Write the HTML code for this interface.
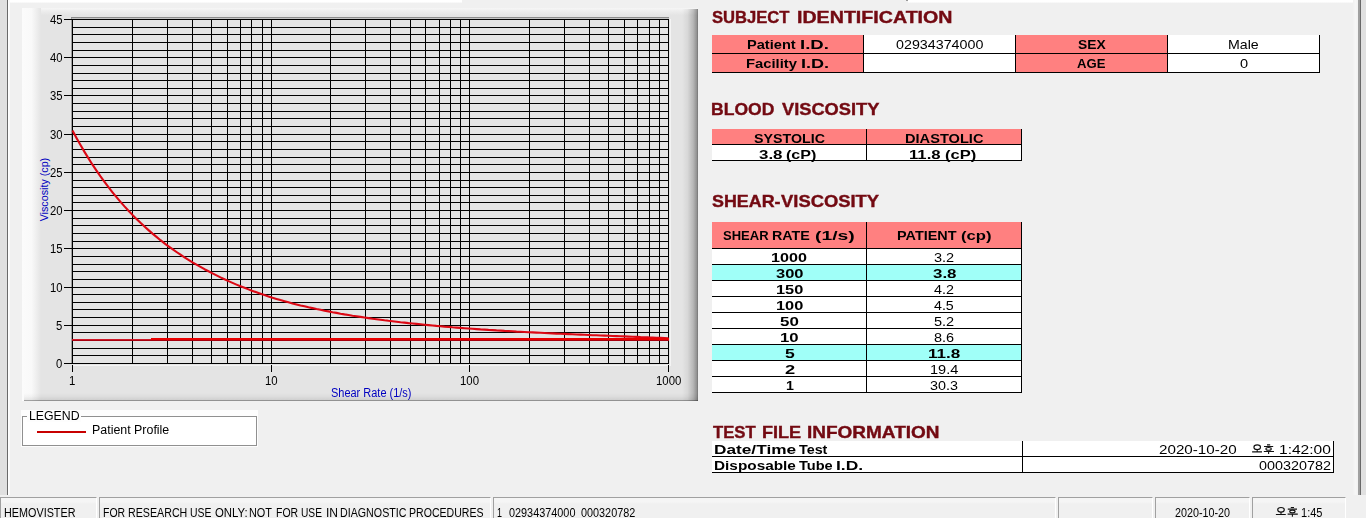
<!DOCTYPE html><html><head><meta charset="utf-8"><title>HEMOVISTER</title><style>
html,body{margin:0;padding:0;}
body{width:1366px;height:518px;overflow:hidden;background:#f0f0f0;font-family:"Liberation Sans",sans-serif;position:relative;}
.abs{position:absolute;}
.t{position:absolute;white-space:nowrap;transform-origin:0 50%;display:block;}
.c{position:absolute;box-sizing:border-box;}
.sal{background:#ff8080;}
.wh{background:#fff;}
.cy{background:#a0fff8;}
.br{border-right:1px solid #000;}
.bb{border-bottom:1px solid #000;}
.sb{position:absolute;top:497px;height:24px;box-sizing:border-box;border-top:1px solid #a0a0a0;border-left:1px solid #a0a0a0;border-right:1px solid #fff;background:linear-gradient(#f5f5f5 0,#f5f5f5 4px,#f0f0f0 6px);}
</style></head><body>
<div class="abs" style="left:8px;top:0;width:454px;height:3px;background:linear-gradient(#fff 0,#fff 60%,#f4f4f4 100%)"></div>
<div class="abs" style="left:908px;top:0;width:446px;height:3px;background:linear-gradient(#fff 0,#fff 60%,#f4f4f4 100%)"></div>
<div class="abs" style="left:906px;top:0;width:2px;height:1px;background:#9a9a9a"></div>
<div class="abs" style="left:0;top:0;width:7px;height:495px;background:#e0e0e0"></div>
<div class="abs" style="left:7px;top:0;width:1px;height:495px;background:#6a6a6a"></div>
<div class="abs" style="left:8px;top:0;width:2px;height:495px;background:linear-gradient(90deg,#fff 0,#fff 50%,#f7f7f7 100%)"></div>
<div class="abs" style="left:1353px;top:0;width:5px;height:495px;background:linear-gradient(90deg,#f1f1f1,#f6f6f6 50%,#f1f1f1)"></div>
<div class="abs" style="left:1358px;top:0;width:2px;height:495px;background:#a0a0a0"></div>
<div class="abs" style="left:1360px;top:0;width:1px;height:495px;background:#686868"></div>
<div class="abs" style="left:1361px;top:0;width:5px;height:495px;background:#e0e0e0"></div>
<div class="abs" style="left:22px;top:8px;width:676px;height:393px;background:#e4e4e4"></div>
<div class="abs" style="left:22px;top:8px;width:676px;height:7px;background:linear-gradient(#f6f6f6 0,#eeeeee 40%,#e4e4e4 100%)"></div>
<div class="abs" style="left:22px;top:8px;width:19px;height:393px;background:linear-gradient(90deg,#fbfbfb 0,#f9f9f9 50%,#e4e4e4 100%)"></div>
<div class="abs" style="left:24px;top:393px;width:674px;height:7px;background:linear-gradient(rgba(0,0,0,0) 0,rgba(0,0,0,.03) 50%,rgba(0,0,0,.09) 100%)"></div>
<div class="abs" style="left:24px;top:400px;width:674px;height:1px;background:rgba(0,0,0,.36)"></div>
<div class="abs" style="left:682px;top:9px;width:16px;height:392px;background:linear-gradient(90deg,rgba(0,0,0,0) 0,rgba(0,0,0,.055) 35%,rgba(0,0,0,.2) 70%,rgba(0,0,0,.36) 92%,rgba(0,0,0,.5) 100%)"></div>
<svg class="abs" style="left:0;top:0" width="720" height="410" viewBox="0 0 720 410">
<path d="M71 17.5H669" stroke="#8c8c8c" stroke-width="1" fill="none" shape-rendering="crispEdges"/>
<path d="M71.5 364V18.5H669" stroke="#c4c4c4" stroke-width="1" fill="none" shape-rendering="crispEdges"/>
<path d="M71.5 364V18" stroke="#a0a0a0" stroke-width="1" fill="none" shape-rendering="crispEdges"/>
<path d="M72 365.5H670.5V19" stroke="#f4f4f4" stroke-width="1" fill="none" shape-rendering="crispEdges"/>
<path d="M72 363.5H669M72 355.5H669M72 348.5H669M72 340.5H669M72 332.5H669M72 325.5H669M72 317.5H669M72 309.5H669M72 302.5H669M72 294.5H669M72 287.5H669M72 279.5H669M72 271.5H669M72 264.5H669M72 256.5H669M72 248.5H669M72 241.5H669M72 233.5H669M72 225.5H669M72 218.5H669M72 210.5H669M72 202.5H669M72 195.5H669M72 187.5H669M72 180.5H669M72 172.5H669M72 164.5H669M72 157.5H669M72 149.5H669M72 141.5H669M72 134.5H669M72 126.5H669M72 118.5H669M72 111.5H669M72 103.5H669M72 95.5H669M72 88.5H669M72 80.5H669M72 73.5H669M72 65.5H669M72 57.5H669M72 50.5H669M72 42.5H669M72 34.5H669M72 27.5H669M72 19.5H669M72.5 19V364M132.5 19V364M167.5 19V364M192.5 19V364M211.5 19V364M227.5 19V364M240.5 19V364M251.5 19V364M262.5 19V364M271.5 19V364M330.5 19V364M365.5 19V364M390.5 19V364M410.5 19V364M425.5 19V364M439.5 19V364M450.5 19V364M460.5 19V364M469.5 19V364M529.5 19V364M564.5 19V364M589.5 19V364M608.5 19V364M624.5 19V364M637.5 19V364M649.5 19V364M659.5 19V364M668.5 19V364" stroke="#000" stroke-width="1" fill="none" shape-rendering="crispEdges"/>
<path d="M64 363.5H72M64 325.5H72M64 287.5H72M64 248.5H72M64 210.5H72M64 172.5H72M64 134.5H72M64 95.5H72M64 57.5H72M64 19.5H72M72.5 365V372M271.5 365V372M469.5 365V372M668.5 365V372" stroke="#000" stroke-width="1" fill="none" shape-rendering="crispEdges"/>
<polyline points="72.5,130.6 76.5,138.0 80.5,145.1 84.5,151.9 88.5,158.4 92.5,164.7 96.5,170.6 100.5,176.4 104.5,181.9 108.5,187.2 112.5,192.3 116.5,197.2 120.5,201.9 124.5,206.4 128.5,210.7 132.5,214.9 136.5,218.9 140.5,222.8 144.5,226.5 148.5,230.1 152.5,233.6 156.5,236.9 160.5,240.2 164.5,243.3 168.5,246.3 172.5,249.2 176.5,252.0 180.5,254.7 184.5,257.3 188.5,259.8 192.5,262.3 196.5,264.6 200.5,266.9 204.5,269.2 208.5,271.3 212.5,273.4 216.5,275.4 220.5,277.4 224.5,279.2 228.5,281.1 232.5,282.9 236.5,284.6 240.5,286.2 244.5,287.8 248.5,289.4 252.5,290.9 256.5,292.3 260.5,293.7 264.5,295.1 268.5,296.4 272.5,297.7 276.5,298.9 280.5,300.1 284.5,301.2 288.5,302.3 292.5,303.4 296.5,304.4 300.5,305.4 304.5,306.3 308.5,307.3 312.5,308.1 316.5,309.0 320.5,309.8 324.5,310.7 328.5,311.4 332.5,312.2 336.5,312.9 340.5,313.7 344.5,314.4 348.5,315.0 352.5,315.7 356.5,316.3 360.5,316.9 364.5,317.5 368.5,318.1 372.5,318.7 376.5,319.2 380.5,319.7 384.5,320.3 388.5,320.8 392.5,321.2 396.5,321.7 400.5,322.2 404.5,322.6 408.5,323.1 412.5,323.5 416.5,323.9 420.5,324.3 424.5,324.7 428.5,325.1 432.5,325.5 436.5,325.9 440.5,326.2 444.5,326.6 448.5,326.9 452.5,327.3 456.5,327.6 460.5,327.9 464.5,328.2 468.5,328.5 472.5,328.8 476.5,329.1 480.5,329.4 484.5,329.6 488.5,329.9 492.5,330.1 496.5,330.4 500.5,330.6 504.5,330.9 508.5,331.1 512.5,331.3 516.5,331.6 520.5,331.8 524.5,332.0 528.5,332.2 532.5,332.4 536.5,332.6 540.5,332.8 544.5,333.0 548.5,333.2 552.5,333.4 556.5,333.6 560.5,333.8 564.5,333.9 568.5,334.1 572.5,334.3 576.5,334.5 580.5,334.6 584.5,334.8 588.5,335.0 592.5,335.2 596.5,335.3 600.5,335.5 604.5,335.6 608.5,335.8 612.5,336.0 616.5,336.1 620.5,336.3 624.5,336.4 628.5,336.6 632.5,336.8 636.5,336.9 640.5,337.1 644.5,337.2 648.5,337.4 652.5,337.5 656.5,337.7 660.5,337.8 664.5,338.0 668.5,338.2" stroke="#dc0814" stroke-width="2.1" fill="none" stroke-linejoin="round"/>
<path d="M72 340.5H669" stroke="#a80010" stroke-width="1" fill="none" shape-rendering="crispEdges"/>
<path d="M72 339.5H152" stroke="#d01828" stroke-width="1" fill="none" shape-rendering="crispEdges"/>
<path d="M151 339H669" stroke="#e80000" stroke-width="2" fill="none" shape-rendering="crispEdges"/>
</svg>
<span class="t" style="left:0;top:0;font-size:11.5px;line-height:14px;color:#0000c0;transform-origin:0 0;transform:translate(36.70px,221.35px) rotate(-90deg) scaleX(0.9319)">Viscosity (cp)</span>
<div class="abs" style="left:21px;top:410px;width:237px;height:37px;background:#fdfdfd"></div>
<div class="abs" style="left:22px;top:416px;width:235px;height:30px;box-sizing:border-box;border:1px solid #909090;background:#fff"></div>
<div class="abs" style="left:27px;top:410px;width:54px;height:12px;background:#fdfdfd"></div>
<div class="abs" style="left:37px;top:431px;width:49px;height:2px;background:#c80000"></div>
<div class="c sal br bb" style="left:712px;top:35px;width:152px;height:19px"></div>
<div class="c wh br bb" style="left:864px;top:35px;width:152px;height:19px"></div>
<div class="c sal br bb" style="left:1016px;top:35px;width:152px;height:19px"></div>
<div class="c wh br bb" style="left:1168px;top:35px;width:152px;height:19px"></div>
<div class="c sal br bb" style="left:712px;top:54px;width:152px;height:19px"></div>
<div class="c wh br bb" style="left:864px;top:54px;width:152px;height:19px"></div>
<div class="c sal br bb" style="left:1016px;top:54px;width:152px;height:19px"></div>
<div class="c wh br bb" style="left:1168px;top:54px;width:152px;height:19px"></div>
<div class="c sal br bb" style="left:712px;top:129px;width:155px;height:16px"></div>
<div class="c sal br bb" style="left:867px;top:129px;width:155px;height:16px"></div>
<div class="c wh br bb" style="left:712px;top:145px;width:155px;height:16px"></div>
<div class="c wh br bb" style="left:867px;top:145px;width:155px;height:16px"></div>
<div class="c sal br bb" style="left:712px;top:222px;width:155px;height:27px"></div>
<div class="c sal br bb" style="left:867px;top:222px;width:155px;height:27px"></div>
<div class="c wh br bb" style="left:712px;top:249px;width:155px;height:16px"></div>
<div class="c wh br bb" style="left:867px;top:249px;width:155px;height:16px"></div>
<div class="c cy br bb" style="left:712px;top:265px;width:155px;height:16px"></div>
<div class="c cy br bb" style="left:867px;top:265px;width:155px;height:16px"></div>
<div class="c wh br bb" style="left:712px;top:281px;width:155px;height:16px"></div>
<div class="c wh br bb" style="left:867px;top:281px;width:155px;height:16px"></div>
<div class="c wh br bb" style="left:712px;top:297px;width:155px;height:16px"></div>
<div class="c wh br bb" style="left:867px;top:297px;width:155px;height:16px"></div>
<div class="c wh br bb" style="left:712px;top:313px;width:155px;height:16px"></div>
<div class="c wh br bb" style="left:867px;top:313px;width:155px;height:16px"></div>
<div class="c wh br bb" style="left:712px;top:329px;width:155px;height:16px"></div>
<div class="c wh br bb" style="left:867px;top:329px;width:155px;height:16px"></div>
<div class="c cy br bb" style="left:712px;top:345px;width:155px;height:16px"></div>
<div class="c cy br bb" style="left:867px;top:345px;width:155px;height:16px"></div>
<div class="c wh br bb" style="left:712px;top:361px;width:155px;height:16px"></div>
<div class="c wh br bb" style="left:867px;top:361px;width:155px;height:16px"></div>
<div class="c wh br bb" style="left:712px;top:377px;width:155px;height:16px"></div>
<div class="c wh br bb" style="left:867px;top:377px;width:155px;height:16px"></div>
<div class="c wh br bb" style="left:712px;top:441px;width:311px;height:16px"></div>
<div class="c wh br bb" style="left:1023px;top:441px;width:311px;height:16px"></div>
<div class="c wh br bb" style="left:712px;top:457px;width:311px;height:16px"></div>
<div class="c wh br bb" style="left:1023px;top:457px;width:311px;height:16px"></div>
<div class="sb" style="left:0px;width:97px"></div>
<div class="sb" style="left:99px;width:392px"></div>
<div class="sb" style="left:493px;width:563px"></div>
<div class="sb" style="left:1058px;width:95px"></div>
<div class="sb" style="left:1155px;width:95px"></div>
<div class="sb" style="left:1252px;width:94px"></div>
<div class="abs" style="left:0;top:0;width:1366px;height:518px;will-change:transform">
<span class="t" style="left:712.10px;top:6.70px;font-size:16.6px;line-height:21px;transform:scaleX(1.0003);color:#730a12;font-weight:bold;-webkit-text-stroke:0.4px #730a12;">SUBJECT</span>
<span class="t" style="left:796.52px;top:6.70px;font-size:16.6px;line-height:21px;transform:scaleX(1.1824);color:#730a12;font-weight:bold;-webkit-text-stroke:0.4px #730a12;">IDENTIFICATION</span>
<span class="t" style="left:711.36px;top:99.10px;font-size:16.6px;line-height:21px;transform:scaleX(1.0570);color:#730a12;font-weight:bold;-webkit-text-stroke:0.4px #730a12;">BLOOD</span>
<span class="t" style="left:781.51px;top:99.10px;font-size:16.6px;line-height:21px;transform:scaleX(1.1005);color:#730a12;font-weight:bold;-webkit-text-stroke:0.4px #730a12;">VISCOSITY</span>
<span class="t" style="left:711.96px;top:191.10px;font-size:16.6px;line-height:21px;transform:scaleX(1.0768);color:#730a12;font-weight:bold;-webkit-text-stroke:0.4px #730a12;">SHEAR-</span>
<span class="t" style="left:780.81px;top:191.10px;font-size:16.6px;line-height:21px;transform:scaleX(1.1085);color:#730a12;font-weight:bold;-webkit-text-stroke:0.4px #730a12;">VISCOSITY</span>
<span class="t" style="left:712.73px;top:421.80px;font-size:16.6px;line-height:21px;transform:scaleX(1.0076);color:#730a12;font-weight:bold;-webkit-text-stroke:0.4px #730a12;">TEST</span>
<span class="t" style="left:762.33px;top:421.80px;font-size:16.6px;line-height:21px;transform:scaleX(1.0881);color:#730a12;font-weight:bold;-webkit-text-stroke:0.4px #730a12;">FILE</span>
<span class="t" style="left:807.07px;top:421.80px;font-size:16.6px;line-height:21px;transform:scaleX(1.1441);color:#730a12;font-weight:bold;-webkit-text-stroke:0.4px #730a12;">INFORMATION</span>
<span class="t" style="left:746.65px;top:36.70px;font-size:12.4px;line-height:16px;transform:scaleX(1.1793);font-weight:bold;">Patient</span>
<span class="t" style="left:800.29px;top:36.70px;font-size:12.4px;line-height:16px;transform:scaleX(1.4997);font-weight:bold;">I.D.</span>
<span class="t" style="left:746.24px;top:56.00px;font-size:12.4px;line-height:16px;transform:scaleX(1.1924);font-weight:bold;">Facility</span>
<span class="t" style="left:801.02px;top:56.00px;font-size:12.4px;line-height:16px;transform:scaleX(1.4601);font-weight:bold;">I.D.</span>
<span class="t" style="left:896.43px;top:36.70px;font-size:12.4px;line-height:16px;transform:scaleX(1.1523);">02934374000</span>
<span class="t" style="left:1077.79px;top:36.70px;font-size:12.4px;line-height:16px;transform:scaleX(1.1150);font-weight:bold;">SEX</span>
<span class="t" style="left:1077.37px;top:56.00px;font-size:12.4px;line-height:16px;transform:scaleX(1.0574);font-weight:bold;">AGE</span>
<span class="t" style="left:1228.37px;top:36.70px;font-size:12.4px;line-height:16px;transform:scaleX(1.1425);">Male</span>
<span class="t" style="left:1239.72px;top:56.00px;font-size:12.4px;line-height:16px;transform:scaleX(1.1761);">0</span>
<span class="t" style="left:754.07px;top:131.20px;font-size:12.4px;line-height:16px;transform:scaleX(1.1495);font-weight:bold;">SYSTOLIC</span>
<span class="t" style="left:904.85px;top:131.20px;font-size:12.4px;line-height:16px;transform:scaleX(1.1791);font-weight:bold;">DIASTOLIC</span>
<span class="t" style="left:758.58px;top:147.00px;font-size:12.4px;line-height:16px;transform:scaleX(1.3652);font-weight:bold;">3.8</span>
<span class="t" style="left:785.80px;top:147.00px;font-size:12.4px;line-height:16px;transform:scaleX(1.2975);font-weight:bold;">(cP)</span>
<span class="t" style="left:909.30px;top:147.00px;font-size:12.4px;line-height:16px;transform:scaleX(1.3486);font-weight:bold;">11.8</span>
<span class="t" style="left:945.07px;top:147.00px;font-size:12.4px;line-height:16px;transform:scaleX(1.3336);font-weight:bold;">(cP)</span>
<span class="t" style="left:722.91px;top:228.20px;font-size:12.4px;line-height:16px;transform:scaleX(1.0519);font-weight:bold;">SHEAR</span>
<span class="t" style="left:772.37px;top:228.20px;font-size:12.4px;line-height:16px;transform:scaleX(1.1534);font-weight:bold;">RATE</span>
<span class="t" style="left:814.93px;top:228.20px;font-size:12.4px;line-height:16px;transform:scaleX(1.5594);font-weight:bold;">(1/s)</span>
<span class="t" style="left:896.56px;top:228.20px;font-size:12.4px;line-height:16px;transform:scaleX(1.1634);font-weight:bold;">PATIENT</span>
<span class="t" style="left:961.37px;top:228.20px;font-size:12.4px;line-height:16px;transform:scaleX(1.3433);font-weight:bold;">(cp)</span>
<span class="t" style="left:771.33px;top:250.20px;font-size:12.4px;line-height:16px;transform:scaleX(1.3017);font-weight:bold;">1000</span>
<span class="t" style="left:934.02px;top:250.20px;font-size:12.4px;line-height:16px;transform:scaleX(1.1725);">3.2</span>
<span class="t" style="left:776.09px;top:266.20px;font-size:12.4px;line-height:16px;transform:scaleX(1.3306);font-weight:bold;">300</span>
<span class="t" style="left:932.98px;top:266.20px;font-size:12.4px;line-height:16px;transform:scaleX(1.3652);font-weight:bold;">3.8</span>
<span class="t" style="left:776.32px;top:282.20px;font-size:12.4px;line-height:16px;transform:scaleX(1.3192);font-weight:bold;">150</span>
<span class="t" style="left:934.31px;top:282.20px;font-size:12.4px;line-height:16px;transform:scaleX(1.1547);">4.2</span>
<span class="t" style="left:776.32px;top:298.20px;font-size:12.4px;line-height:16px;transform:scaleX(1.3192);font-weight:bold;">100</span>
<span class="t" style="left:934.32px;top:298.20px;font-size:12.4px;line-height:16px;transform:scaleX(1.1460);">4.5</span>
<span class="t" style="left:779.79px;top:314.20px;font-size:12.4px;line-height:16px;transform:scaleX(1.3648);font-weight:bold;">50</span>
<span class="t" style="left:934.02px;top:314.20px;font-size:12.4px;line-height:16px;transform:scaleX(1.1725);">5.2</span>
<span class="t" style="left:780.00px;top:330.20px;font-size:12.4px;line-height:16px;transform:scaleX(1.3494);font-weight:bold;">10</span>
<span class="t" style="left:933.95px;top:330.20px;font-size:12.4px;line-height:16px;transform:scaleX(1.1680);">8.6</span>
<span class="t" style="left:784.77px;top:346.20px;font-size:12.4px;line-height:16px;transform:scaleX(1.4194);font-weight:bold;">5</span>
<span class="t" style="left:927.87px;top:346.20px;font-size:12.4px;line-height:16px;transform:scaleX(1.3799);font-weight:bold;">11.8</span>
<span class="t" style="left:784.66px;top:362.20px;font-size:12.4px;line-height:16px;transform:scaleX(1.4785);font-weight:bold;">2</span>
<span class="t" style="left:929.81px;top:362.20px;font-size:12.4px;line-height:16px;transform:scaleX(1.1746);">19.4</span>
<span class="t" style="left:785.74px;top:378.20px;font-size:12.4px;line-height:16px;transform:scaleX(1.1496);font-weight:bold;">1</span>
<span class="t" style="left:930.33px;top:378.20px;font-size:12.4px;line-height:16px;transform:scaleX(1.1589);">30.3</span>
<span class="t" style="left:714.28px;top:442.30px;font-size:12.4px;line-height:16px;transform:scaleX(1.3914);font-weight:bold;">Date/Time</span>
<span class="t" style="left:799.46px;top:442.30px;font-size:12.4px;line-height:16px;transform:scaleX(1.1562);font-weight:bold;">Test</span>
<span class="t" style="left:714.40px;top:458.20px;font-size:12.4px;line-height:16px;transform:scaleX(1.2386);font-weight:bold;">Disposable</span>
<span class="t" style="left:799.45px;top:458.20px;font-size:12.4px;line-height:16px;transform:scaleX(1.1759);font-weight:bold;">Tube</span>
<span class="t" style="left:836.26px;top:458.20px;font-size:12.4px;line-height:16px;transform:scaleX(1.4092);font-weight:bold;">I.D.</span>
<span class="t" style="left:1159.14px;top:442.30px;font-size:12.4px;line-height:16px;transform:scaleX(1.2249);">2020-10-20</span>
<span class="t" style="left:1278.73px;top:442.30px;font-size:12.4px;line-height:16px;transform:scaleX(1.2553);">1:42:00</span>
<span class="t" style="left:1258.82px;top:458.20px;font-size:12.4px;line-height:16px;transform:scaleX(1.1600);">000320782</span>
<span class="t" style="left:56.43px;top:355.60px;font-size:12px;line-height:16px;transform:scaleX(0.9400);">0</span>
<span class="t" style="left:56.49px;top:317.60px;font-size:12px;line-height:16px;transform:scaleX(0.9400);">5</span>
<span class="t" style="left:50.17px;top:279.60px;font-size:12px;line-height:16px;transform:scaleX(0.9400);">10</span>
<span class="t" style="left:50.23px;top:240.60px;font-size:12px;line-height:16px;transform:scaleX(0.9400);">15</span>
<span class="t" style="left:50.17px;top:202.60px;font-size:12px;line-height:16px;transform:scaleX(0.9400);">20</span>
<span class="t" style="left:50.23px;top:164.60px;font-size:12px;line-height:16px;transform:scaleX(0.9400);">25</span>
<span class="t" style="left:50.17px;top:126.60px;font-size:12px;line-height:16px;transform:scaleX(0.9400);">30</span>
<span class="t" style="left:50.23px;top:87.60px;font-size:12px;line-height:16px;transform:scaleX(0.9400);">35</span>
<span class="t" style="left:50.17px;top:49.60px;font-size:12px;line-height:16px;transform:scaleX(0.9400);">40</span>
<span class="t" style="left:50.23px;top:11.60px;font-size:12px;line-height:16px;transform:scaleX(0.9400);">45</span>
<span class="t" style="left:69.17px;top:372.50px;font-size:12px;line-height:16px;transform:scaleX(0.9500);">1</span>
<span class="t" style="left:264.61px;top:372.50px;font-size:12px;line-height:16px;transform:scaleX(0.9500);">10</span>
<span class="t" style="left:460.11px;top:372.50px;font-size:12px;line-height:16px;transform:scaleX(0.9500);">100</span>
<span class="t" style="left:655.59px;top:372.50px;font-size:12px;line-height:16px;transform:scaleX(0.9500);">1000</span>
<span class="t" style="left:330.91px;top:384.60px;font-size:12px;line-height:16px;transform:scaleX(0.9140);color:#0000c0;">Shear Rate (1/s)</span>
<span class="t" style="left:28.82px;top:407.70px;font-size:12px;line-height:16px;transform:scaleX(1.0247);">LEGEND</span>
<span class="t" style="left:92.41px;top:421.50px;font-size:12px;line-height:16px;transform:scaleX(1.0342);">Patient Profile</span>
<span class="t" style="left:3.64px;top:505.00px;font-size:12px;line-height:16px;transform:scaleX(0.9008);">HEMOVISTER</span>
<span class="t" style="left:102.76px;top:505.00px;font-size:12px;line-height:16px;transform:scaleX(0.8732);">FOR</span>
<span class="t" style="left:127.65px;top:505.00px;font-size:12px;line-height:16px;transform:scaleX(0.8897);">RESEARCH</span>
<span class="t" style="left:189.72px;top:505.00px;font-size:12px;line-height:16px;transform:scaleX(0.8677);">USE</span>
<span class="t" style="left:214.59px;top:505.00px;font-size:12px;line-height:16px;transform:scaleX(0.9476);">ONLY:</span>
<span class="t" style="left:249.43px;top:505.00px;font-size:12px;line-height:16px;transform:scaleX(0.9080);">NOT</span>
<span class="t" style="left:275.76px;top:505.00px;font-size:12px;line-height:16px;transform:scaleX(0.8732);">FOR</span>
<span class="t" style="left:300.93px;top:505.00px;font-size:12px;line-height:16px;transform:scaleX(0.8505);">USE</span>
<span class="t" style="left:325.52px;top:505.00px;font-size:12px;line-height:16px;transform:scaleX(1.0040);">IN</span>
<span class="t" style="left:339.65px;top:505.00px;font-size:12px;line-height:16px;transform:scaleX(0.8900);">DIAGNOSTIC</span>
<span class="t" style="left:409.25px;top:505.00px;font-size:12px;line-height:16px;transform:scaleX(0.8802);">PROCEDURES</span>
<span class="t" style="left:497.33px;top:505.00px;font-size:12px;line-height:16px;transform:scaleX(0.7471);">1</span>
<span class="t" style="left:509.07px;top:505.00px;font-size:12px;line-height:16px;transform:scaleX(0.9051);">02934374000</span>
<span class="t" style="left:581.37px;top:505.00px;font-size:12px;line-height:16px;transform:scaleX(0.9037);">000320782</span>
<span class="t" style="left:1175.06px;top:505.00px;font-size:12px;line-height:16px;transform:scaleX(0.8963);">2020-10-20</span>
<span class="t" style="left:1301.37px;top:505.00px;font-size:12px;line-height:16px;transform:scaleX(0.9199);">1:45</span>
</div>
<svg class="abs" style="left:0;top:0" width="1366" height="518" viewBox="0 0 1366 518">
<g fill="none" stroke="#111" stroke-width="1.1"><ellipse cx="1257.20" cy="447.20" rx="3.30" ry="2.30"/><path d="M1257.20 449.50V451.90M1252.10 451.90H1262.00"/><path d="M1267.00 444.90H1270.20M1264.00 446.50H1273.20"/><ellipse cx="1268.60" cy="448.90" rx="2.70" ry="1.35"/><path d="M1263.80 451.50H1274.00M1268.60 451.50V454.10"/></g>
<g fill="none" stroke="#111" stroke-width="1.1"><ellipse cx="1281.00" cy="509.80" rx="3.30" ry="2.30"/><path d="M1281.00 512.10V514.50M1275.90 514.50H1285.80"/><path d="M1290.80 507.50H1294.00M1287.80 509.10H1297.00"/><ellipse cx="1292.40" cy="511.50" rx="2.70" ry="1.35"/><path d="M1287.60 514.10H1297.80M1292.40 514.10V516.70"/></g>
</svg>
</body></html>
